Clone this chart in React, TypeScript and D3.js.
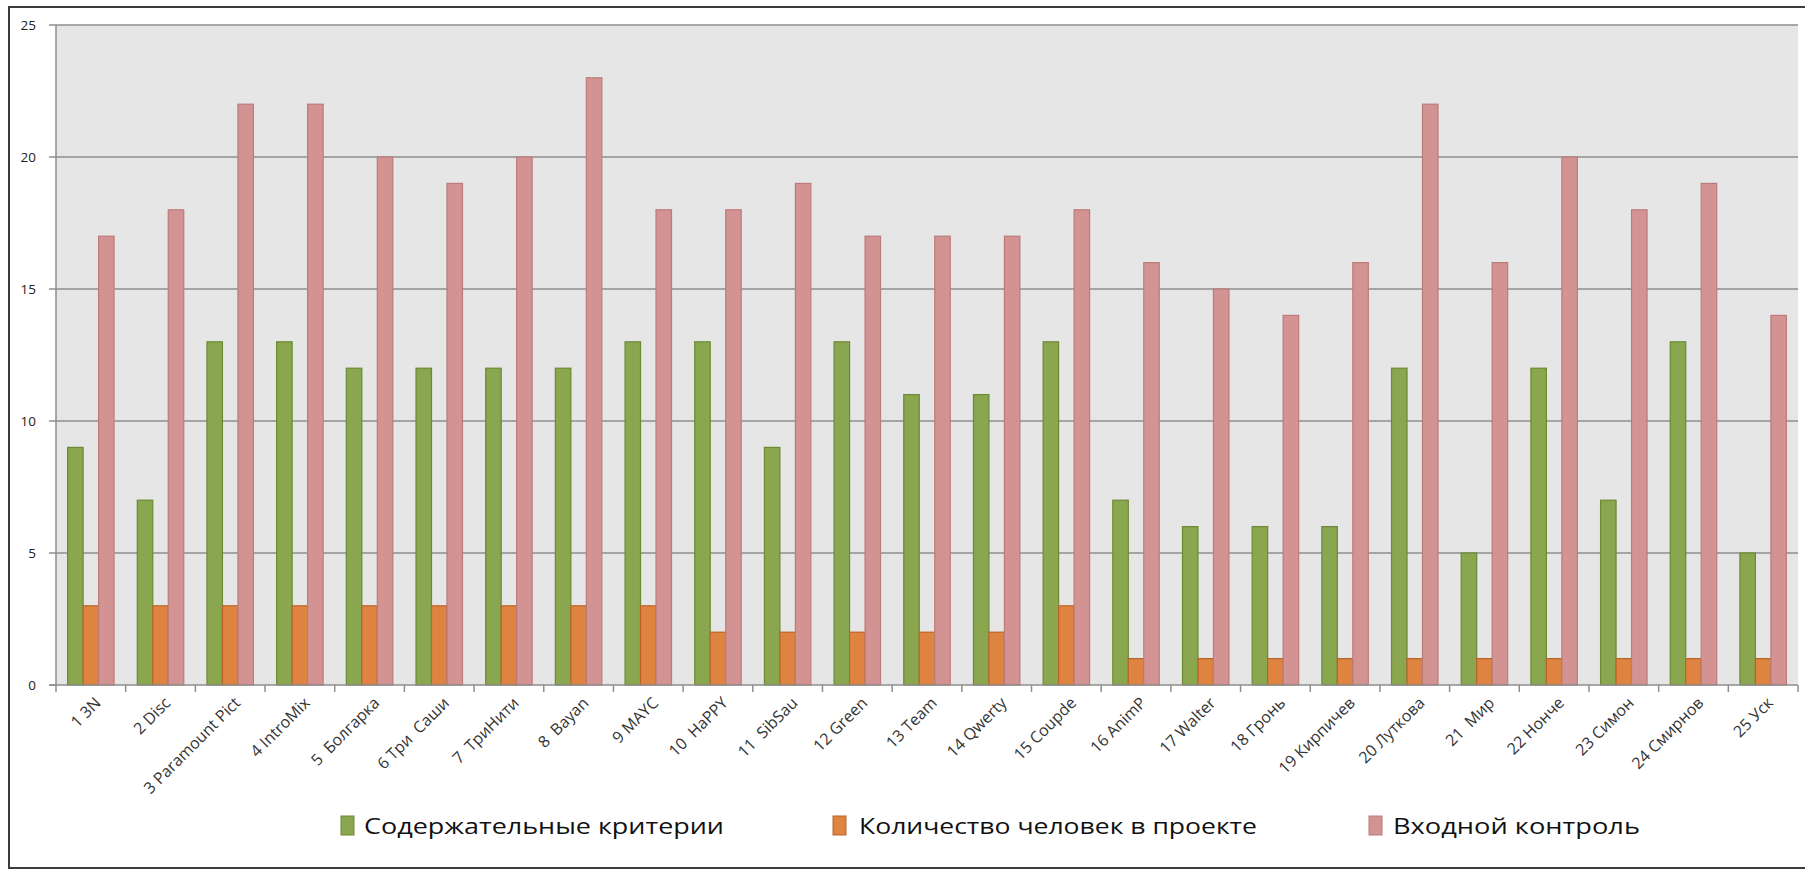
import * as d3 from "d3";

const categories = [
  "1 3N", "2 Disc", "3 Paramount Pict", "4 IntroMix", "5  Болгарка",
  "6 Три  Саши", "7  ТриНити", "8  Bayan", "9 MAYC", "10  HaPPY",
  "11  SibSau", "12 Green", "13 Team", "14 Qwerty", "15 Coupde",
  "16 AnimP", "17 Walter", "18 Гронь", "19 Кирпичев", "20 Лутковa",
  "21  Мир", "22 Нонче", "23 Симон", "24 Смирнов", "25 Уск",
];
categories[19] = "20 Лутков" + "а";

const seriesNames = [
  "Содержательные критерии",
  "Количество человек в проекте",
  "Входной контроль",
];

const criteria = [9, 7, 13, 13, 12, 12, 12, 12, 13, 13, 9, 13, 11, 11, 13, 7, 6, 6, 6, 12, 5, 12, 7, 13, 5];
const people = [3, 3, 3, 3, 3, 3, 3, 3, 3, 2, 2, 2, 2, 2, 3, 1, 1, 1, 1, 1, 1, 1, 1, 1, 1];
const entry = [17, 18, 22, 22, 20, 19, 20, 23, 18, 18, 19, 17, 17, 17, 18, 16, 15, 14, 16, 22, 16, 20, 18, 19, 14];

const yTicks = [0, 5, 10, 15, 20, 25];

const fills = ["#8aa64f", "#de8440", "#d49393"];
const strokes = ["#6b8a33", "#b9652a", "#bb7b7b"];

const W = 1805;
const H = 870;
const plot = { left: 56, right: 1798, top: 25, bottom: 685 };

// legend placement: swatch x, text start, text end
const legendPos = [
  [341, 364, 724],
  [833, 859, 1257],
  [1369, 1393, 1640],
];

export default function App() {
  const values = [criteria, people, entry];

  const x0 = d3.scaleBand<string>().domain(categories).range([plot.left, plot.right]);
  const x1 = d3
    .scaleBand<number>()
    .domain([0, 1, 2])
    .range([0, x0.bandwidth()])
    .paddingInner(0)
    .paddingOuter(0.75);
  const y = d3.scaleLinear().domain([0, 25]).range([plot.bottom, plot.top]);

  const font = "'Open Sans', 'DejaVu Sans', sans-serif";

  return (
    <svg
      width={W}
      height={H}
      style={{ position: "absolute", left: 0, top: 0, background: "#fff" }}
    >
      {/* outer frame */}
      <rect x={9} y={7} width={W} height={861} fill="none" stroke="#3c3c3c" strokeWidth={2} />

      {/* plot background */}
      <rect
        x={plot.left}
        y={plot.top}
        width={plot.right - plot.left}
        height={plot.bottom - plot.top}
        fill="#e6e6e6"
      />

      {/* gridlines + y ticks */}
      {yTicks.map((t) => (
        <g key={t}>
          {t > 0 && (
            <line
              x1={plot.left}
              x2={plot.right}
              y1={y(t)}
              y2={y(t)}
              stroke="#8e8e8e"
              strokeWidth={1.5}
            />
          )}
          <line x1={49} x2={plot.left} y1={y(t)} y2={y(t)} stroke="#8e8e8e" strokeWidth={1.5} />
          <text
            x={36}
            y={y(t)}
            dy="0.35em"
            textAnchor="end"
            fontFamily={font}
            fontSize={13.5}
            fill="#222"
          >
            {t}
          </text>
        </g>
      ))}

      {/* bars */}
      {values.map((vals, s) =>
        vals.map((v, i) => (
          <rect
            key={`${s}-${i}`}
            x={x0(categories[i])! + x1(s)!}
            y={y(v)}
            width={x1.bandwidth()}
            height={y(0) - y(v)}
            fill={fills[s]}
            stroke={strokes[s]}
            strokeWidth={1.2}
          />
        ))
      )}

      {/* axes */}
      <line x1={plot.left} x2={plot.left} y1={plot.top} y2={plot.bottom} stroke="#8e8e8e" strokeWidth={1.5} />
      <line x1={49} x2={plot.right} y1={plot.bottom} y2={plot.bottom} stroke="#8e8e8e" strokeWidth={1.5} />
      {categories.map((c, i) => (
        <line
          key={`t${i}`}
          x1={x0(c)! + x0.bandwidth()}
          x2={x0(c)! + x0.bandwidth()}
          y1={plot.bottom}
          y2={plot.bottom + 7}
          stroke="#8e8e8e"
          strokeWidth={1.5}
        />
      ))}
      <line x1={plot.left} x2={plot.left} y1={plot.bottom} y2={plot.bottom + 7} stroke="#8e8e8e" strokeWidth={1.5} />

      {/* category labels */}
      {categories.map((c) => {
        const cx = x0(c)! + x0.bandwidth() / 2 + 11;
        const cy = plot.bottom + 19;
        return (
          <text
            key={c}
            x={cx}
            y={cy}
            transform={`rotate(-45 ${cx} ${cy})`}
            textAnchor="end"
            fontFamily={font}
            fontSize={16}
            fill="#333"
            style={{ whiteSpace: "pre" }}
          >
            {c}
          </text>
        );
      })}

      {/* legend */}
      {seriesNames.map((name, s) => {
        const [sx, tx, te] = legendPos[s];
        return (
          <g key={name}>
            <rect x={sx} y={816} width={13} height={19} fill={fills[s]} stroke={strokes[s]} strokeWidth={1} />
            <text
              x={tx}
              y={826}
              dy="0.35em"
              fontFamily={font}
              fontSize={22}
              textLength={te - tx}
              lengthAdjust="spacingAndGlyphs"
              fill="#111"
            >
              {name}
            </text>
          </g>
        );
      })}
    </svg>
  );
}
